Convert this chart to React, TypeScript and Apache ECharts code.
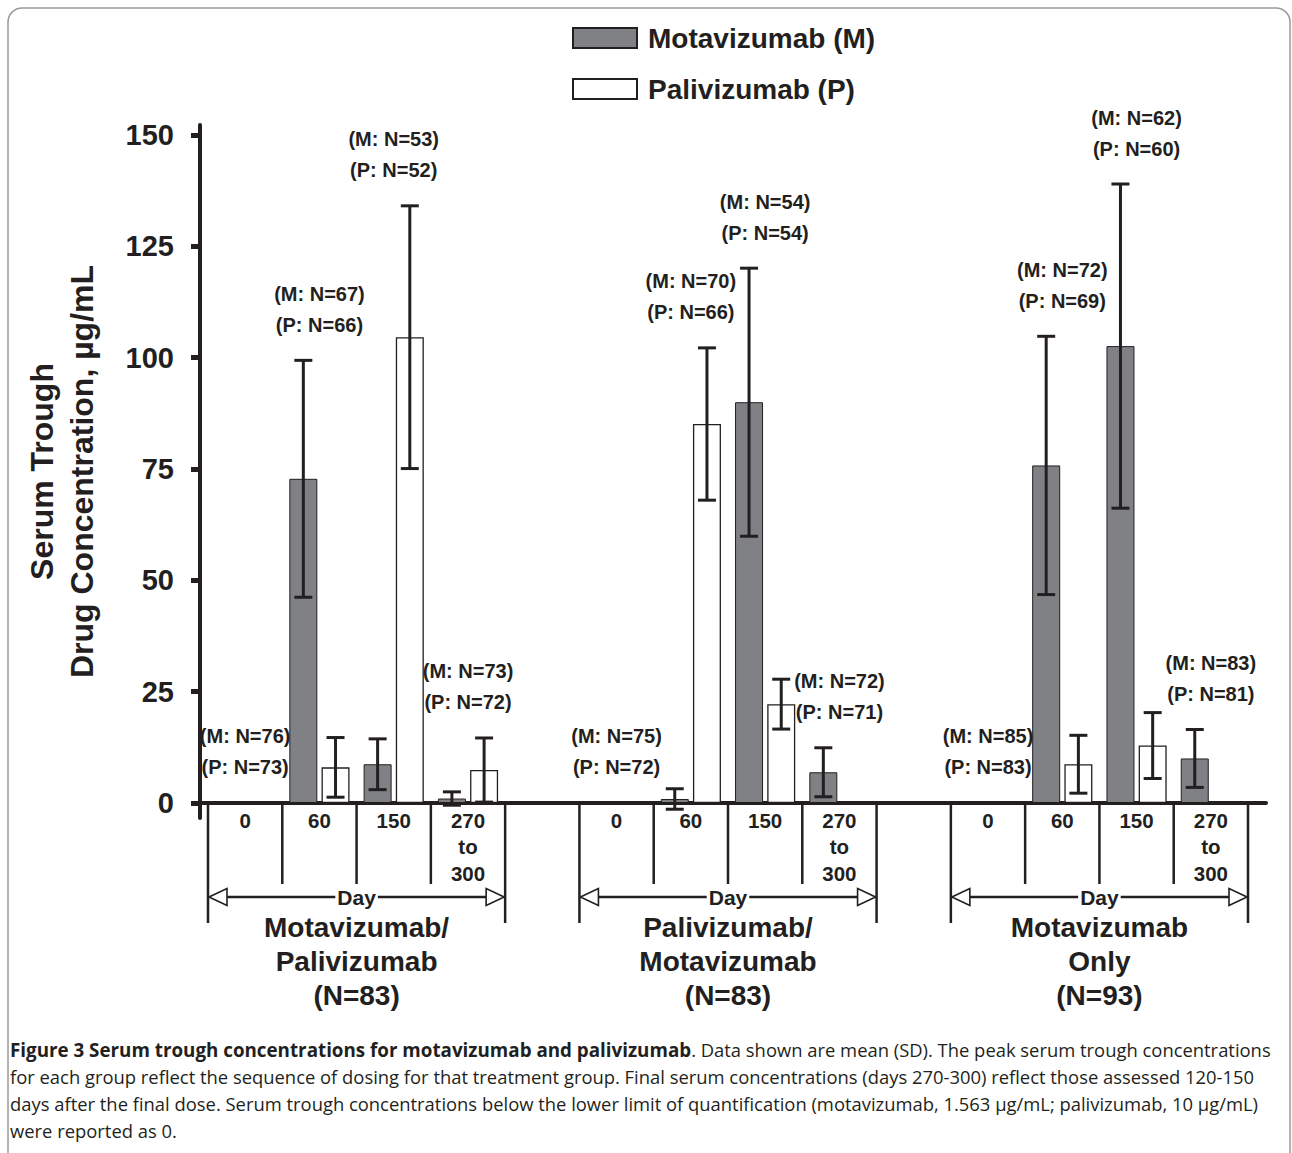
import React, { useEffect, useRef } from 'react';
import * as echarts from 'echarts';

// ---------- data ----------
const days = ['0', '60', '150', '270\nto\n300'];
const groupTitles = [
  'Motavizumab/\nPalivizumab\n(N=83)',
  'Palivizumab/\nMotavizumab\n(N=83)',
  'Motavizumab\nOnly\n(N=93)',
];
const yTicks = [0, 25, 50, 75, 100, 125, 150];

// mean (SD) serum trough concentration, µg/mL, per group x day
const motaMean = [
  [null, 72.8, 8.7, 1.0],
  [null, 0.9, 90.0, 6.9],
  [null, 75.8, 102.6, 10.0],
];
const motaSD = [
  [null, 26.6, 5.7, 1.5],
  [null, 2.3, 30.1, 5.5],
  [null, 29.0, 36.4, 6.5],
];
const paliMean = [
  [null, 8.0, 104.6, 7.4],
  [null, 85.1, 22.2, null],
  [null, 8.7, 12.9, null],
];
const paliSD = [
  [null, 6.7, 29.5, 7.2],
  [null, 17.1, 5.6, null],
  [null, 6.5, 7.4, null],
];
const motaN = [
  [76, 67, 53, 73],
  [75, 70, 54, 72],
  [85, 72, 62, 83],
];
const paliN = [
  [73, 66, 52, 72],
  [72, 66, 54, 71],
  [83, 69, 60, 81],
];

const seriesNames = ['Motavizumab (M)', 'Palivizumab (P)'];
const yAxisTitle = 'Serum Trough\nDrug Concentration, µg/mL';
const captionBold = 'Figure 3 Serum trough concentrations for motavizumab and palivizumab';
const captionLines = [
  '. Data shown are mean (SD). The peak serum trough concentrations',
  'for each group reflect the sequence of dosing for that treatment group. Final serum concentrations (days 270-300) reflect those assessed 120-150',
  'days after the final dose. Serum trough concentrations below the lower limit of quantification (motavizumab, 1.563 µg/mL; palivizumab, 10 µg/mL)',
  'were reported as 0.',
];

// ---------- styles ----------
const INK = '#231f20';
const M_FILL = '#808184';
const FONT = 'Liberation Sans, Arial, Helvetica, sans-serif';
const CAP_FONT = 'Open Sans, Noto Sans, sans-serif';
const BAR_W = 28;
const BAR_GAP = 0.15;
const PAIR_OFFSET = (BAR_W * (1 + BAR_GAP)) / 2;
const Y_MIN = -3.37;
const Y_MAX = 152.25;
const GRID_TOP = 125;
const GRID_BOTTOM_Y = 818;
const SLOTS_PER_GROUP = days.length + 1;

// ---------- derived ----------
const nSlots = groupTitles.length * SLOTS_PER_GROUP - 1;
const categories: string[] = [];
for (let i = 0; i < nSlots; i++) {
  const d = i % SLOTS_PER_GROUP;
  categories.push(d < days.length ? days[d] : '');
}
const slot = (g: number, d: number) => g * SLOTS_PER_GROUP + d;

const mBars: (number | null)[] = new Array(nSlots).fill(null);
const pBars: (number | null)[] = new Array(nSlots).fill(null);
const mErr: number[][] = [];
const pErr: number[][] = [];
const notes: number[][] = [];
const groupSpans: number[][] = [];
groupTitles.forEach((_, g) => {
  groupSpans.push([slot(g, 0), slot(g, days.length - 1)]);
  days.forEach((__, d) => {
    const i = slot(g, d);
    const mm = motaMean[g][d];
    const ms = motaSD[g][d];
    const pm = paliMean[g][d];
    const ps = paliSD[g][d];
    mBars[i] = mm;
    pBars[i] = pm;
    let anchor = 0;
    if (mm != null && ms != null) {
      mErr.push([i, mm, ms]);
      anchor = Math.max(anchor, mm + ms);
    }
    if (pm != null && ps != null) {
      pErr.push([i, pm, ps]);
      anchor = Math.max(anchor, pm + ps);
    }
    notes.push([i, anchor, motaN[g][d], paliN[g][d]]);
  });
});

// pixel distance between the grid bottom and the value-0 baseline
const zeroLift = ((0 - Y_MIN) / (Y_MAX - Y_MIN)) * (GRID_BOTTOM_Y - GRID_TOP);

const errRender = (offset: number) => (params: any, api: any) => {
  const idx = api.value(0);
  const m = api.value(1);
  const sd = api.value(2);
  const top = api.coord([idx, m + sd]);
  const bot = api.coord([idx, m - sd]);
  const x = top[0] + offset;
  const style = { stroke: INK, lineWidth: 3 };
  return {
    type: 'group',
    children: [
      { type: 'line', shape: { x1: x, y1: top[1], x2: x, y2: bot[1] }, style },
      { type: 'line', shape: { x1: x - 9, y1: top[1], x2: x + 9, y2: top[1] }, style },
      { type: 'line', shape: { x1: x - 9, y1: bot[1], x2: x + 9, y2: bot[1] }, style },
    ],
  };
};

const groupRender = (params: any, api: any) => {
  const s = api.value(0);
  const e = api.value(1);
  const band = api.size([1, 0])[0];
  const p0 = api.coord([s, 0]);
  const p1 = api.coord([e, 0]);
  const left = p0[0] - band / 2;
  const right = p1[0] + band / 2;
  const y0 = p0[1];
  const ls = { stroke: INK, lineWidth: 2.5 };
  const children: any[] = [];
  children.push({ type: 'line', shape: { x1: left, y1: y0, x2: left, y2: y0 + 120 }, style: ls });
  children.push({ type: 'line', shape: { x1: right, y1: y0, x2: right, y2: y0 + 120 }, style: ls });
  for (let k = 1; k < days.length; k++) {
    const x = api.coord([s + k, 0])[0] - band / 2;
    children.push({ type: 'line', shape: { x1: x, y1: y0, x2: x, y2: y0 + 81 }, style: ls });
  }
  const ya = y0 + 94;
  children.push({ type: 'line', shape: { x1: left + 17, y1: ya, x2: right - 17, y2: ya }, style: ls });
  children.push({
    type: 'polygon',
    shape: { points: [[left + 1, ya], [left + 19, ya - 8.5], [left + 19, ya + 8.5]] },
    style: { fill: '#fff', stroke: INK, lineWidth: 1.6 },
  });
  children.push({
    type: 'polygon',
    shape: { points: [[right - 1, ya], [right - 19, ya - 8.5], [right - 19, ya + 8.5]] },
    style: { fill: '#fff', stroke: INK, lineWidth: 1.6 },
  });
  const cx = (left + right) / 2;
  children.push({
    type: 'text',
    x: cx,
    y: ya + 1,
    style: {
      text: 'Day',
      fill: INK,
      fontFamily: FONT,
      fontWeight: 'bold',
      fontSize: 21,
      align: 'center',
      verticalAlign: 'middle',
      backgroundColor: '#fff',
      padding: [0, 2],
    },
  });
  children.push({
    type: 'text',
    x: cx,
    y: y0 + 108,
    style: {
      text: groupTitles[params.dataIndex],
      fill: INK,
      fontFamily: FONT,
      fontWeight: 'bold',
      fontSize: 28,
      lineHeight: 34,
      align: 'center',
      verticalAlign: 'top',
    },
  });
  return { type: 'group', children };
};

const noteRender = (params: any, api: any) => {
  const idx = api.value(0);
  const anchor = api.value(1);
  const p = api.coord([idx, anchor]);
  return {
    type: 'text',
    x: p[0],
    y: p[1] - 20,
    style: {
      text: `(M: N=${api.value(2)})\n(P: N=${api.value(3)})`,
      fill: INK,
      fontFamily: FONT,
      fontWeight: 'bold',
      fontSize: 20,
      lineHeight: 31,
      align: 'center',
      verticalAlign: 'bottom',
    },
  };
};

const captionText =
  `{b|${captionBold}}{r|${captionLines[0]}}\n` +
  captionLines.slice(1).map((l) => `{r|${l}}`).join('\n');

export default function App() {
  const ref = useRef<HTMLDivElement>(null);
  useEffect(() => {
    if (!ref.current) return;
    const chart = echarts.init(ref.current, null, { renderer: 'svg' });
    const gridBottom = 1153 - GRID_BOTTOM_Y;
    chart.setOption({
      animation: false,
      textStyle: { fontFamily: FONT },
      legend: {
        orient: 'vertical',
        left: 572,
        top: 24,
        padding: 0,
        itemWidth: 64,
        itemHeight: 20,
        itemGap: 23,
        icon: 'rect',
        selectedMode: false,
        data: seriesNames,
        textStyle: {
          fontSize: 28,
          fontWeight: 'bold',
          color: INK,
          fontFamily: FONT,
          lineHeight: 28,
          padding: [0, 0, 0, 6],
        },
      },
      grid: [
        { left: 200, right: 26, top: GRID_TOP, bottom: gridBottom, outerBoundsMode: 'none', containLabel: false },
        { left: 208, right: 44, top: GRID_TOP, bottom: gridBottom, outerBoundsMode: 'none', containLabel: false },
      ],
      xAxis: [
        {
          type: 'value',
          gridIndex: 0,
          min: 0,
          max: 1,
          axisLine: { show: true, onZero: true, lineStyle: { color: INK, width: 4 } },
          axisTick: { show: false },
          axisLabel: { show: false },
          splitLine: { show: false },
        },
        {
          type: 'category',
          gridIndex: 1,
          data: categories,
          offset: -zeroLift,
          axisLine: { show: false, onZero: false },
          axisTick: { show: false },
          axisLabel: {
            interval: 0,
            margin: 4,
            fontSize: 20.5,
            fontWeight: 'bold',
            lineHeight: 26.5,
            color: INK,
            fontFamily: FONT,
          },
          splitLine: { show: false },
        },
      ],
      yAxis: [
        {
          type: 'value',
          gridIndex: 0,
          min: Y_MIN,
          max: Y_MAX,
          name: yAxisTitle,
          nameLocation: 'middle',
          nameRotate: 90,
          nameGap: 98,
          nameTextStyle: { fontSize: 32, fontWeight: 'bold', color: INK, lineHeight: 40, fontFamily: FONT },
          axisLine: { show: true, lineStyle: { color: INK, width: 4 } },
          axisTick: { show: true, length: 9, customValues: yTicks, lineStyle: { color: INK, width: 5 } },
          axisLabel: {
            customValues: yTicks,
            margin: 26,
            fontSize: 29,
            fontWeight: 'bold',
            color: INK,
            fontFamily: FONT,
          },
          splitLine: { show: false },
        },
        {
          type: 'value',
          gridIndex: 1,
          min: Y_MIN,
          max: Y_MAX,
          axisLine: { show: false },
          axisTick: { show: false },
          axisLabel: { show: false },
          splitLine: { show: false },
        },
      ],
      series: [
        {
          name: seriesNames[0],
          type: 'bar',
          xAxisIndex: 1,
          yAxisIndex: 1,
          data: mBars,
          barWidth: BAR_W,
          barGap: `${BAR_GAP * 100}%`,
          itemStyle: { color: M_FILL, borderColor: INK, borderWidth: 1 },
          z: 2,
        },
        {
          name: seriesNames[1],
          type: 'bar',
          xAxisIndex: 1,
          yAxisIndex: 1,
          data: pBars,
          barWidth: BAR_W,
          barGap: `${BAR_GAP * 100}%`,
          itemStyle: { color: '#ffffff', borderColor: INK, borderWidth: 1.3 },
          z: 2,
        },
        {
          type: 'custom',
          xAxisIndex: 1,
          yAxisIndex: 1,
          data: mErr,
          renderItem: errRender(-PAIR_OFFSET),
          z: 4,
          silent: true,
        },
        {
          type: 'custom',
          xAxisIndex: 1,
          yAxisIndex: 1,
          data: pErr,
          renderItem: errRender(PAIR_OFFSET),
          z: 4,
          silent: true,
        },
        {
          type: 'custom',
          xAxisIndex: 1,
          yAxisIndex: 1,
          data: notes,
          renderItem: noteRender,
          z: 5,
          silent: true,
        },
        {
          type: 'custom',
          xAxisIndex: 1,
          yAxisIndex: 1,
          data: groupSpans,
          renderItem: groupRender,
          z: 5,
          silent: true,
          clip: false,
        },
      ],
      graphic: [
        {
          type: 'rect',
          shape: { x: 8, y: 8, width: 1282, height: 1180, r: 14 },
          style: { fill: 'none', stroke: '#9a9a9a', lineWidth: 1.5 },
          z: -10,
          silent: true,
        },
        {
          type: 'text',
          left: 10,
          top: 1036,
          style: {
            text: captionText,
            fill: INK,
            fontFamily: CAP_FONT,
            fontSize: 18.4,
            lineHeight: 27,
            rich: {
              b: { fontFamily: CAP_FONT, fontSize: 18.8, fontWeight: 'bold', fill: INK, lineHeight: 27 },
              r: { fontFamily: CAP_FONT, fontSize: 18.4, fill: INK, lineHeight: 27 },
            },
          },
          silent: true,
        },
      ],
    });
    return () => chart.dispose();
  }, []);
  return (
    <div
      ref={ref}
      style={{ position: 'fixed', left: 0, top: 0, width: 1292, height: 1153, background: '#fff' }}
    />
  );
}
